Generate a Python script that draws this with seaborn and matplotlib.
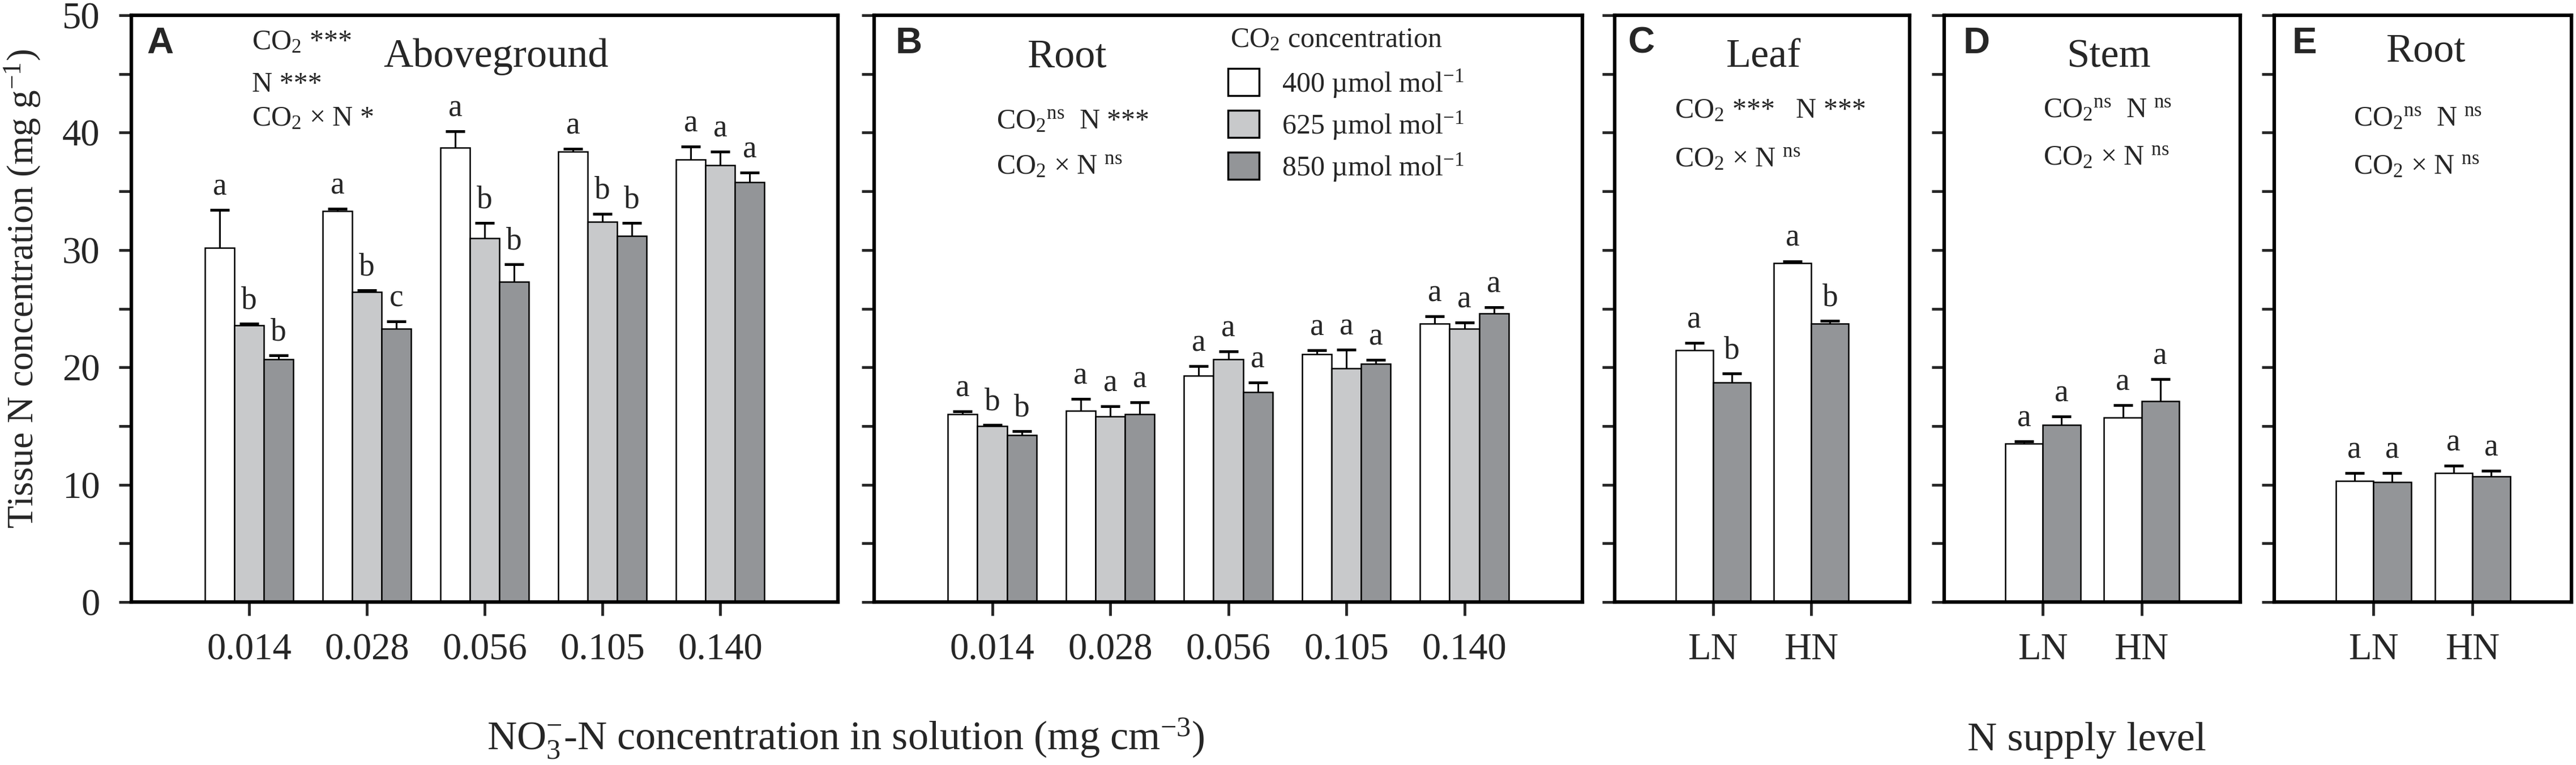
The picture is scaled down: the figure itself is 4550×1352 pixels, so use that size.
import numpy as np
import pandas as pd
import matplotlib.pyplot as plt
from matplotlib.patches import Patch
import seaborn as sns

# categories
nitrate_levels = ['0.014', '0.028', '0.056', '0.105', '0.140']
supply_levels = ['LN', 'HN']
co2_levels = ['400', '625', '850']
co2_pair = ['400', '850']

# A - aboveground, rows = 400 / 625 / 850 umol mol-1
above_mean = [[30.2, 33.3, 38.7, 38.4, 37.7],
              [23.6, 26.4, 31.0, 32.4, 37.2],
              [20.7, 23.3, 27.3, 31.2, 35.8]]
above_se = [[3.2, 0.2, 1.4, 0.2, 1.1],
            [0.1, 0.15, 1.3, 0.7, 1.2],
            [0.3, 0.6, 1.5, 1.1, 0.8]]
above_letters = [['a', 'a', 'a', 'a', 'a'],
                 ['b', 'b', 'b', 'b', 'a'],
                 ['b', 'c', 'b', 'b', 'a']]

# B - root (nitrate experiment)
root_mean = [[16.0, 16.3, 19.3, 21.1, 23.7],
             [15.0, 15.8, 20.7, 19.9, 23.3],
             [14.2, 16.0, 17.9, 20.3, 24.6]]
root_se = [[0.25, 1.0, 0.8, 0.35, 0.65],
           [0.1, 0.9, 0.65, 1.6, 0.5],
           [0.35, 1.0, 0.8, 0.35, 0.5]]
root_letters = [['a', 'a', 'a', 'a', 'a'],
                ['b', 'a', 'a', 'a', 'a'],
                ['b', 'a', 'a', 'a', 'a']]

# C - leaf, rows = 400 / 850
leaf_mean = [[21.45, 28.9], [18.7, 23.7]]
leaf_se = [[0.65, 0.15], [0.8, 0.27]]
leaf_letters = [['a', 'a'], ['b', 'b']]

# D - stem
stem_mean = [[13.5, 15.7], [15.1, 17.1]]
stem_se = [[0.18, 1.1], [0.7, 1.9]]
stem_letters = [['a', 'a'], ['a', 'a']]

# E - root (N supply experiment)
root2_mean = [[10.3, 11.0], [10.2, 10.7]]
root2_se = [[0.7, 0.6], [0.8, 0.5]]
root2_letters = [['a', 'a'], ['a', 'a']]

bar_colors = {'400': '#ffffff', '625': '#c8c9cb', '850': '#939598'}

sns.set_style('ticks')
plt.rcParams['font.family'] = ['Liberation Serif', 'DejaVu Serif']
plt.rcParams['mathtext.fontset'] = 'custom'
plt.rcParams['mathtext.rm'] = 'Liberation Serif'
plt.rcParams['mathtext.it'] = 'Liberation Serif:italic'
plt.rcParams['mathtext.bf'] = 'Liberation Serif:bold'

W, H = 4550, 1352
fig = plt.figure(figsize=(W / 100, H / 100), dpi=100)
y_top, y_bot = 27, 1064


def make_axes(x0, x1):
    return fig.add_axes([x0 / W, (H - y_bot) / H, (x1 - x0) / W, (y_bot - y_top) / H])


def to_frame(levels, co2s, means):
    rows = []
    for c, vals in zip(co2s, means):
        for lev, v in zip(levels, vals):
            rows.append({'level': lev, 'co2': c, 'value': v})
    return pd.DataFrame(rows)


def draw_panel(ax, levels, co2s, means, ses, letters, width, show_labels=False):
    df = to_frame(levels, co2s, means)
    sns.barplot(data=df, x='level', y='value', hue='co2', order=levels, hue_order=co2s,
                palette=bar_colors, width=width, saturation=1, edgecolor='black',
                linewidth=1.8, errorbar=None, legend=False, ax=ax)
    for container, se_row, let_row in zip(ax.containers, ses, letters):
        xs = [p.get_x() + p.get_width() / 2 for p in container]
        tops = [p.get_height() for p in container]
        eb = ax.errorbar(xs, tops, yerr=[np.zeros(len(se_row)), se_row], fmt='none',
                         ecolor='black', elinewidth=2.2, capsize=12, capthick=3.5, zorder=3)
        eb.lines[1][0].set_visible(False)  # only upper cap
        for x, t, s, lab in zip(xs, tops, se_row, let_row):
            ax.text(x, t + s + 0.7, lab, ha='center', va='bottom', fontsize=40)

    ax.set_xlim(-1, len(levels))
    ax.set_ylim(0, 50)
    yt = np.arange(0, 51, 5)
    ax.set_yticks(yt)
    if show_labels:
        ax.set_yticklabels([str(v) if v % 10 == 0 else '' for v in yt])
    else:
        ax.set_yticklabels([''] * len(yt))
    ax.set_xlabel('')
    ax.set_ylabel('')
    ax.tick_params(axis='y', direction='out', length=16, width=3.5, labelsize=48, pad=24)
    ax.tick_params(axis='x', direction='out', length=17, width=3.5, labelsize=48, pad=22)
    for s in ax.spines.values():
        s.set_visible(True)
        s.set_linewidth(4.5)
        s.set_color('black')


def panel_letter(ax, x, letter):
    ax.text(x, 0.981, letter, transform=ax.transAxes, ha='left', va='top',
            fontsize=47, fontweight='bold', family='Liberation Sans')


def stats(ax, x, ys, lines):
    for y, line in zip(ys, lines):
        ax.text(x, y, line, transform=ax.transAxes, ha='left', va='baseline', fontsize=36)


def title(ax, x, y, txt):
    ax.text(x, y, txt, transform=ax.transAxes, ha='center', va='baseline', fontsize=52)


NS = r'$^{\mathrm{ns}}$'

# panel A
axA = make_axes(232, 1480)
draw_panel(axA, nitrate_levels, co2_levels, above_mean, above_se, above_letters, 0.75, True)
panel_letter(axA, 0.022, 'A')
stats(axA, 0.171, [0.942, 0.870, 0.812], [r'CO$_2$ ***', 'N ***', r'CO$_2$ × N *'])
title(axA, 0.516, 0.912, 'Aboveground')

# panel B
axB = make_axes(1544, 2795)
draw_panel(axB, nitrate_levels, co2_levels, root_mean, root_se, root_letters, 0.75)
panel_letter(axB, 0.030, 'B')
stats(axB, 0.173, [0.806, 0.729], [r'CO$_2$' + NS + '  N ***', r'CO$_2$ × N ' + NS])
title(axB, 0.273, 0.912, 'Root')
axB.text(0.503, 0.946, r'CO$_2$ concentration', transform=axB.transAxes,
         ha='left', va='baseline', fontsize=36)
handles = [Patch(facecolor=bar_colors[c], edgecolor='black', linewidth=2.5) for c in co2_levels]
labels = [c + r' µmol mol$^{-1}$' for c in co2_levels]
axB.legend(handles, labels, loc='upper left', bbox_to_anchor=(0.4996, 0.91),
           frameon=False, fontsize=36, handlelength=1.1, handleheight=1.1,
           handletextpad=0.8, labelspacing=0.36, borderpad=0, borderaxespad=0)

# panel C
axC = make_axes(2852, 3373)
draw_panel(axC, supply_levels, co2_pair, leaf_mean, leaf_se, leaf_letters, 0.76)
panel_letter(axC, 0.044, 'C')
stats(axC, 0.203, [0.825, 0.742], [r'CO$_2$ ***   N ***', r'CO$_2$ × N ' + NS])
title(axC, 0.505, 0.912, 'Leaf')

# panel D
axD = make_axes(3434, 3957)
draw_panel(axD, supply_levels, co2_pair, stem_mean, stem_se, stem_letters, 0.76)
panel_letter(axD, 0.065, 'D')
stats(axD, 0.335, [0.825, 0.744], [r'CO$_2$' + NS + '  N ' + NS, r'CO$_2$ × N ' + NS])
title(axD, 0.556, 0.912, 'Stem')

# panel E
axE = make_axes(4017, 4542)
draw_panel(axE, supply_levels, co2_pair, root2_mean, root2_se, root2_letters, 0.76)
panel_letter(axE, 0.061, 'E')
stats(axE, 0.267, [0.811, 0.729], [r'CO$_2$' + NS + '  N ' + NS, r'CO$_2$ × N ' + NS])
title(axE, 0.510, 0.921, 'Root')

# shared axis titles
fig.text(40 / W, 1 - 510 / H, r'Tissue N concentration (mg g$^{-1}$)', rotation=90,
         ha='center', va='center', fontsize=47)
fig.text(1494 / W, 0.020, r'NO$_3^{-}$-N concentration in solution (mg cm$^{-3}$)',
         ha='center', va='baseline', fontsize=52)
fig.text(3686 / W, 0.019, 'N supply level', ha='center', va='baseline', fontsize=52)

fig.savefig('out.png', dpi=100, facecolor='white')
